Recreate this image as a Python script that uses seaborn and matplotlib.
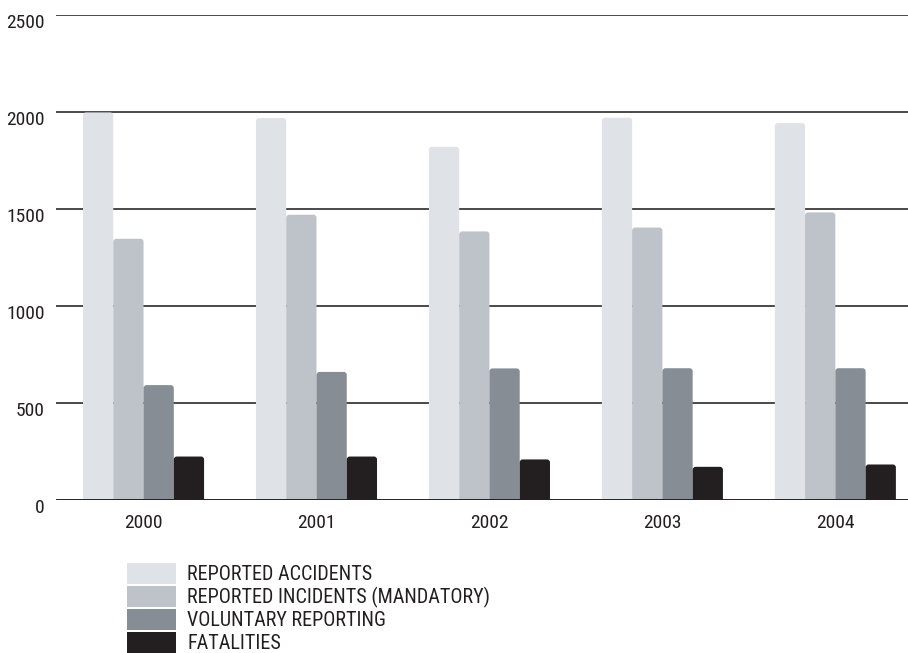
import matplotlib
matplotlib.use("Agg")
import matplotlib.pyplot as plt
import matplotlib.transforms as mtransforms
from matplotlib.patches import FancyBboxPatch
import pandas as pd
import seaborn as sns

# Annual safety reporting figures
years = ["2000", "2001", "2002", "2003", "2004"]
series = [
    "REPORTED ACCIDENTS",
    "REPORTED INCIDENTS (MANDATORY)",
    "VOLUNTARY REPORTING",
    "FATALITIES",
]
reported_accidents = [1998, 1969, 1821, 1971, 1943]
reported_incidents = [1347, 1471, 1385, 1405, 1483]
voluntary_reporting = [593, 661, 679, 680, 680]
fatalities = [225, 225, 210, 172, 184]
y_ticks = [0, 500, 1000, 1500, 2000, 2500]

colors = ["#dfe2e6", "#bec2c9", "#868d94", "#231f20"]
ink = "#231f20"

df = pd.DataFrame({
    "year": years * 4,
    "series": [s for s in series for _ in years],
    "value": reported_accidents + reported_incidents + voluntary_reporting + fatalities,
})

sns.set_theme(style="white")
plt.rcParams["font.family"] = ["Roboto Condensed", "DejaVu Sans"]

fig = plt.figure(figsize=(9.08, 6.53), dpi=100)
ax = fig.add_axes([0.0617, 0.234, 1 - 0.0617, 0.743])

sns.barplot(data=df, x="year", y="value", hue="series", hue_order=series,
            order=years, palette=colors, width=0.70, gap=0, saturation=1,
            edgecolor="none", linewidth=0, ax=ax, zorder=3)

ax.set_ylim(0, 2500)
ax.set_xlim(-0.506, 4.42)

# Give the bars softly rounded tops
fig.canvas.draw()
px_x = ax.transData.transform((1, 0))[0] - ax.transData.transform((0, 0))[0]
px_y = ax.transData.transform((0, 1))[1] - ax.transData.transform((0, 0))[1]
r_px = 3.0
for bar in list(ax.patches):
    if bar.get_height() <= 0:
        continue
    x, y = bar.get_x(), bar.get_y()
    w, h = bar.get_width(), bar.get_height()
    drop = r_px / px_y
    rounded = FancyBboxPatch((x, y - drop), w, h + drop,
                             boxstyle=f"round,pad=0,rounding_size={r_px / px_x}",
                             mutation_aspect=px_x / px_y,
                             facecolor=bar.get_facecolor(), edgecolor="none",
                             linewidth=0, zorder=3)
    bar.set_visible(False)
    ax.add_patch(rounded)

for s in ax.spines.values():
    s.set_visible(False)

ax.set_yticks(y_ticks)
ax.set_yticklabels([str(t) for t in y_ticks])
for t in y_ticks:
    ax.axhline(t, color=ink, lw=2.1 if t == 0 else 1.15, zorder=4 if t == 0 else 2)

ax.tick_params(axis="y", length=0, pad=8, labelsize=14, labelcolor=ink)
ax.tick_params(axis="x", length=0, pad=10, labelsize=14, labelcolor=ink)
offset = mtransforms.ScaledTranslation(0, -6 / 100, fig.dpi_scale_trans)
for lab in ax.get_yticklabels():
    lab.set_transform(lab.get_transform() + offset)

ax.set_xlabel("")
ax.set_ylabel("")
ax.grid(False)

handles, labels = ax.get_legend_handles_labels()
ax.get_legend().remove()
leg = fig.legend(handles, labels, loc="upper left",
                 bbox_to_anchor=(127 / 908, 1 - 563 / 653),
                 frameon=False, fontsize=14.5, handlelength=2.43, handleheight=1.22,
                 labelspacing=0.07, handletextpad=0.55, borderpad=0, borderaxespad=0)
for txt in leg.get_texts():
    txt.set_color(ink)

fig.savefig("out.png", dpi=100)
